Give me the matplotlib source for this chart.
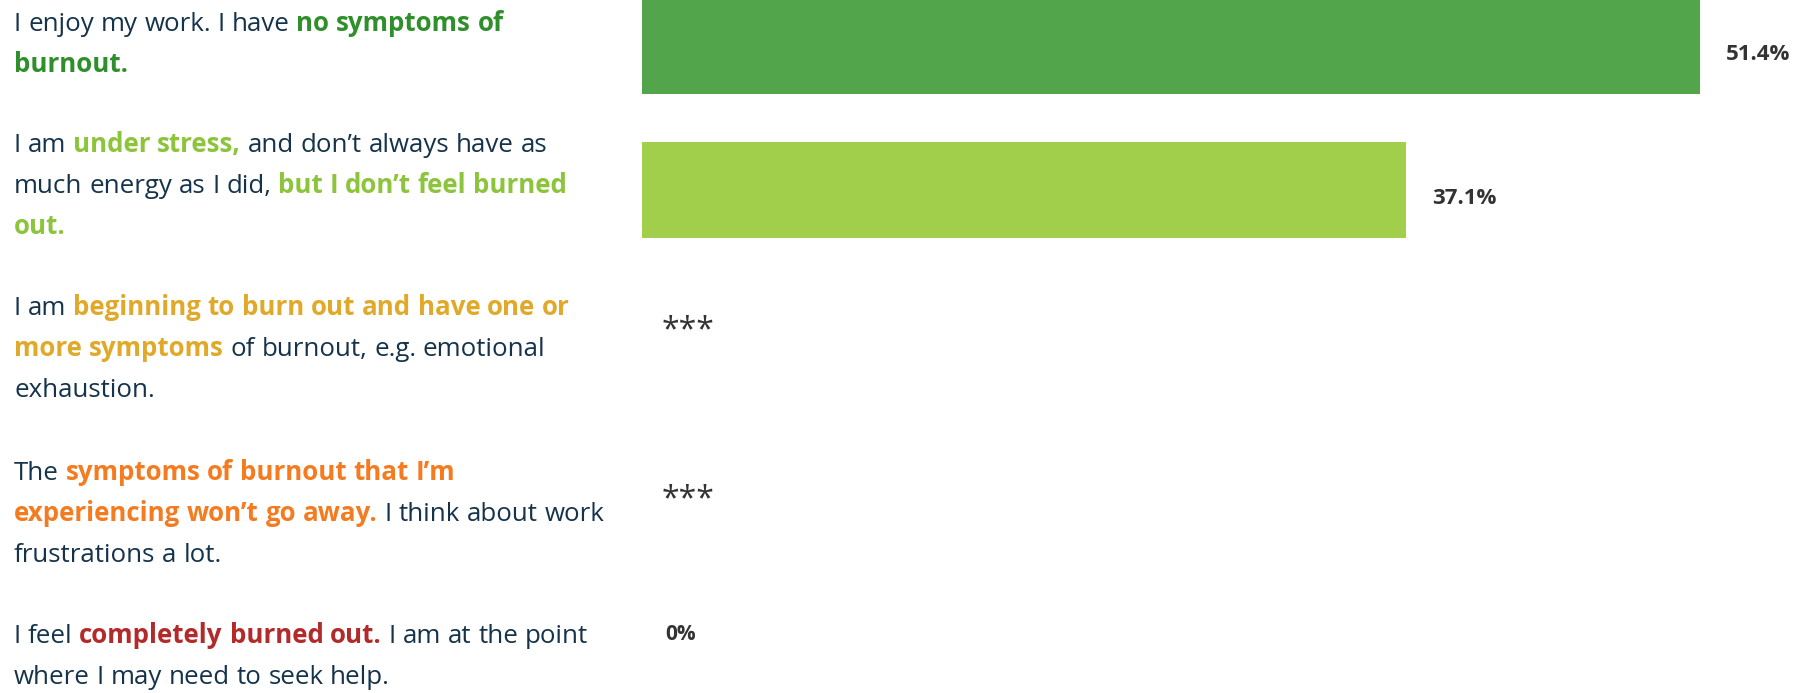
import numpy as np
import matplotlib.pyplot as plt

# Data
values = [51.4, 37.1, np.nan, np.nan, 0.0]
value_labels = ["51.4%", "37.1%", "***", "***", "0%"]
bar_colors = ["#53a54c", "#a1cf4b", "#e0a92a", "#f47b20", "#b22a2a"]

DARK = "#15334a"
GREEN = "#2f8f2a"
LGREEN = "#8cc43c"
GOLD = "#e0a92a"
ORANGE = "#f47b20"
RED = "#b22a2a"

# statement text: rows -> lines -> (text, bold, colour)
statements = [
    [[("I enjoy my work. I have ", False, DARK), ("no symptoms of", True, GREEN)],
     [("burnout.", True, GREEN)]],
    [[("I am ", False, DARK), ("under stress,", True, LGREEN), (" and don’t always have as", False, DARK)],
     [("much energy as I did, ", False, DARK), ("but I don’t feel burned", True, LGREEN)],
     [("out.", True, LGREEN)]],
    [[("I am ", False, DARK), ("beginning to burn out and have one or", True, GOLD)],
     [("more symptoms", True, GOLD), (" of burnout, e.g. emotional", False, DARK)],
     [("exhaustion.", False, DARK)]],
    [[("The ", False, DARK), ("symptoms of burnout that I’m", True, ORANGE)],
     [("experiencing won’t go away.", True, ORANGE), (" I think about work", False, DARK)],
     [("frustrations a lot.", False, DARK)]],
    [[("I feel ", False, DARK), ("completely burned out.", True, RED), (" I am at the point", False, DARK)],
     [("where I may need to seek help.", False, DARK)]],
]

W, H = 1813, 693
fig = plt.figure(figsize=(W / 100, H / 100), dpi=100)

# layout (pixels from top)
row_y = [46, 190, 331, 500, 634]
first_baseline = [31, 152, 315, 480, 643]
line_step = 41.2
text_x = 14
text_font = "Open Sans"
text_size = 18.6

renderer = fig.canvas.get_renderer()


def text_width(s, bold):
    t = fig.text(0, 0, s, fontsize=text_size, family=text_font,
                 fontweight="bold" if bold else "normal")
    w = t.get_window_extent(renderer).width
    t.remove()
    return w


space_w = {b: text_width("a a", b) - text_width("aa", b) for b in (False, True)}

for row, base in zip(statements, first_baseline):
    for i, line in enumerate(row):
        y = base + i * line_step
        x = text_x
        for s, bold, col in line:
            words = s.split(" ")
            for j, word in enumerate(words):
                if word:
                    t = fig.text(x / W, 1 - y / H, word, fontsize=text_size, family=text_font,
                                 fontweight="bold" if bold else "normal", color=col,
                                 va="baseline", ha="left")
                    x += t.get_window_extent(renderer).width
                if j < len(words) - 1:
                    x += space_w[bold]

# bars
x0 = 642
px_per_pct = 20.58
ax = fig.add_axes([x0 / W, 0, 1 - x0 / W, 1])
ax.set_xlim(0, (W - x0) / px_per_pct)
ax.set_ylim(H, 0)
ax.axis("off")

vals = np.nan_to_num(values)
ax.barh(row_y, vals, height=96, color=bar_colors)

for y, v, lab in zip(row_y, vals, value_labels):
    if lab == "***":
        ax.annotate(lab, (v, y), xytext=(14, 0), textcoords="offset points",
                    va="center", ha="left", fontsize=23, family="Open Sans", color="#333333")
    elif v > 0:
        ax.annotate(lab, (v, y), xytext=(19, -6), textcoords="offset points",
                    va="center", ha="left", fontsize=16, family="Open Sans",
                    fontweight="bold", color="#333333")
    else:
        ax.annotate(lab, (v, y), xytext=(17, 0), textcoords="offset points",
                    va="center", ha="left", fontsize=15, family="Open Sans",
                    fontweight="bold", color="#333333")

fig.savefig("out.png", dpi=100)
